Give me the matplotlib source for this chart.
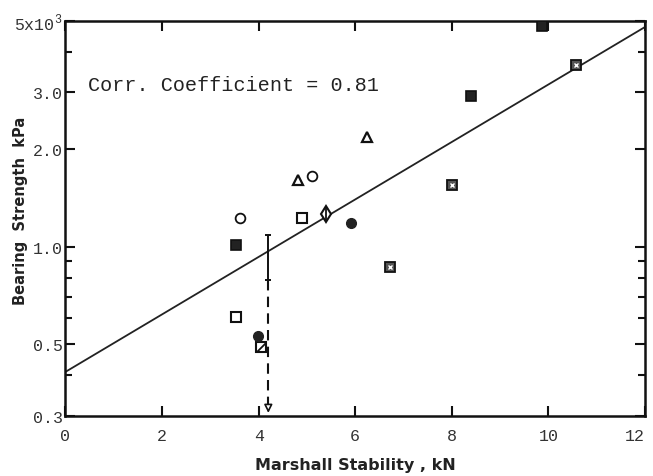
import matplotlib.pyplot as plt
from matplotlib.path import Path
from matplotlib.ticker import FixedLocator, NullFormatter

plt.rcParams['mathtext.fontset'] = 'custom'
plt.rcParams['mathtext.rm'] = 'Liberation Mono'

# --- data (x: Marshall stability kN, y: bearing strength x10^3 kPa) ---
filled_sq_x = [9.87, 8.40, 3.54]
filled_sq_y = [4.81, 2.92, 1.01]
crossed_sq_x = [10.58, 8.01, 6.72]
crossed_sq_y = [3.65, 1.55, 0.863]
open_sq_x = [4.90, 3.54]
open_sq_y = [1.23, 0.605]
slash_sq_x = [4.05]
slash_sq_y = [0.488]
tri_x = [6.24, 4.82]
tri_y = [2.19, 1.61]
open_circ_x = [5.11, 3.61]
open_circ_y = [1.66, 1.23]
filled_circ_x = [5.91, 3.98]
filled_circ_y = [1.18, 0.53]
diamond_x = [5.39]
diamond_y = [1.26]

# regression line end points
fit_x = [0, 12]
fit_y = [0.41, 4.78]

# error bar / read-off arrow
err_x = 4.2
err_lo = 0.79
err_hi = 1.09

ytick_vals = [0.3, 0.5, 1.0, 2.0, 3.0, 5.0]
ytick_labels = ["0.3", "0.5", "1.0", "2.0", "3.0", r"5x10$^3$"]
yminor_vals = [0.4, 0.6, 0.7, 0.8, 0.9, 4.0]
xtick_vals = [0, 2, 4, 6, 8, 10, 12]

mono = 'Liberation Mono'

fig = plt.figure(figsize=(6.53, 4.77), dpi=100)
ax = fig.add_axes([0.1003, 0.1264, 0.8874, 0.8281])

ax.set_yscale('log')
ax.set_xlim(0, 12)
ax.set_ylim(0.3, 5.0)

# regression line
ax.plot(fit_x, fit_y, color='#222222', lw=1.3, zorder=2)

ms = 6.5
kw = dict(linestyle='none', color='#1a1a1a', zorder=3)
ax.plot(filled_sq_x, filled_sq_y, marker='s', ms=ms, mfc='#222222', mec='#111111', mew=1.2, **kw)
ax.plot(crossed_sq_x, crossed_sq_y, marker='s', ms=ms, mfc='#555555', mec='#111111', mew=1.3, **kw)
ax.plot(crossed_sq_x, crossed_sq_y, marker='x', ms=3.5, mec='white', mew=1.0, **kw)
ax.plot(open_sq_x, open_sq_y, marker='s', ms=ms, mfc='white', mec='#111111', mew=1.5, **kw)
ax.plot(slash_sq_x, slash_sq_y, marker='s', ms=ms, mfc='white', mec='#111111', mew=1.5, **kw)
slash = Path([(-1, -1), (1, 1)], [Path.MOVETO, Path.LINETO])
ax.plot(slash_sq_x, slash_sq_y, marker=slash, ms=ms * 0.9, mec='#111111', mew=1.3, **kw)
ax.plot(tri_x, tri_y, marker='^', ms=6.5, mfc='white', mec='#111111', mew=1.6, **kw)
ax.plot(open_circ_x, open_circ_y, marker='o', ms=7, mfc='white', mec='#111111', mew=1.3, **kw)
ax.plot(filled_circ_x, filled_circ_y, marker='o', ms=7, mfc='#222222', mec='#222222', **kw)
ax.plot(diamond_x, diamond_y, marker='d', ms=8, mfc='white', mec='#111111', mew=1.5, **kw)
ax.plot(diamond_x, diamond_y, marker='|', ms=10, mec='#111111', mew=1.3, **kw)

# error bar with caps
mid = (err_lo * err_hi) ** 0.5
ax.errorbar([err_x], [mid], yerr=[[mid - err_lo], [err_hi - mid]],
            fmt='none', ecolor='#111111', elinewidth=1.4, capsize=2.5, capthick=1.4, zorder=3)

# dashed read-off down to the x axis
ax.plot([err_x, err_x], [err_lo, 0.315], color='#111111', lw=1.5,
        linestyle=(0, (5, 3)), zorder=3)
ax.annotate('', xy=(err_x, 0.3), xytext=(err_x, 0.33),
            arrowprops=dict(arrowstyle='-|>', color='#111111', lw=1.2,
                            fc='white', mutation_scale=12))

ax.text(0.47, 3.17, "Corr. Coefficient = 0.81", family=mono, fontsize=14.5,
        va='center', ha='left', color='#222222')

# ticks
ax.set_xticks(xtick_vals)
xlabels = ax.set_xticklabels([str(v) for v in xtick_vals], family=mono, fontsize=12, color='#333333')
xlabels[-1].set_ha('right')  # keep "12" inside the figure like the original
ax.yaxis.set_major_locator(FixedLocator(ytick_vals))
ax.set_yticklabels(ytick_labels, family=mono, fontsize=12, color='#333333')
ax.yaxis.set_minor_locator(FixedLocator(yminor_vals))
ax.yaxis.set_minor_formatter(NullFormatter())

ax.tick_params(axis='both', which='major', direction='in', length=7, width=1.5,
               top=True, right=True, color='#111111')
ax.tick_params(axis='y', which='minor', direction='in', length=5, width=1.5,
               right=True, color='#111111')
ax.tick_params(axis='x', which='major', pad=9)
ax.tick_params(axis='y', which='both', pad=2)

for s in ax.spines.values():
    s.set_linewidth(1.8)
    s.set_color('#111111')

ax.set_xlabel("Marshall Stability , kN", fontsize=11.5, fontweight='bold',
              family='DejaVu Sans', labelpad=10, color='#222222')
ax.set_ylabel("Bearing  Strength  kPa", fontsize=10.5, fontweight='bold',
              family='DejaVu Sans', color='#222222')
ax.yaxis.set_label_coords(-0.064, 0.52)

fig.savefig("out.png", dpi=100)
